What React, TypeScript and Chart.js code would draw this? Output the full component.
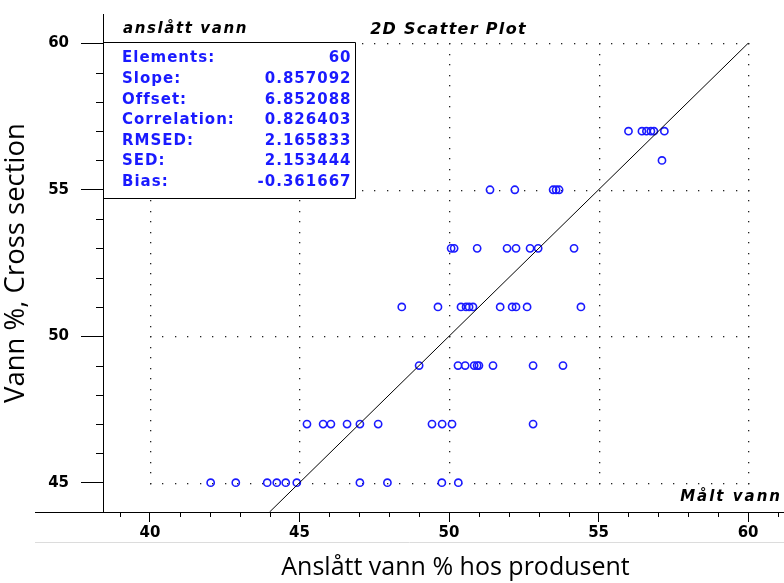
import { useEffect, useRef } from 'react';
import { Chart, registerables } from 'chart.js';

Chart.register(...registerables);

// x: Anslått vann % hos produsent, y: Vann %, Cross section
const producerWater = [
  56.0, 56.45, 56.6, 56.75, 56.85, 57.2,
  57.12,
  51.37, 52.2, 53.48, 53.58, 53.68,
  50.07, 50.17, 50.94, 51.94, 52.24, 52.71, 52.98, 54.18,
  48.42, 49.63, 50.4, 50.57, 50.67, 50.8, 51.71, 52.11, 52.24, 52.61, 54.41,
  49.0, 50.3, 50.54, 50.84, 50.94, 51.0, 51.47, 52.81, 53.81,
  45.25, 45.79, 46.05, 46.59, 47.02, 47.63, 49.43, 49.77, 50.1, 52.81,
  42.03, 42.87, 43.92, 44.24, 44.54, 44.91, 47.02, 47.94, 49.76, 50.31,
];
const crossSectionWater = [
  57, 57, 57, 57, 57, 57,
  56,
  55, 55, 55, 55, 55,
  53, 53, 53, 53, 53, 53, 53, 53,
  51, 51, 51, 51, 51, 51, 51, 51, 51, 51, 51,
  49, 49, 49, 49, 49, 49, 49, 49, 49,
  47, 47, 47, 47, 47, 47, 47, 47, 47, 47,
  45, 45, 45, 45, 45, 45, 45, 45, 45, 45,
];

const xTickValues = [40, 45, 50, 55, 60];
const yTickValues = [45, 50, 55, 60];
const xRange = [38.43, 61.2];
const yRange = [44, 61];
const identityLine = [44, 60];

const statLabels = ['Elements:', 'Slope:', 'Offset:', 'Correlation:', 'RMSED:', 'SED:', 'Bias:'];
const statValues = ['60', '0.857092', '6.852088', '0.826403', '2.165833', '2.153444', '-0.361667'];

const boxTitle = 'anslått vann';
const plotTitle = '2D Scatter Plot';
const cornerLabel = 'Målt vann';
const xAxisTitle = 'Anslått vann % hos produsent';
const yAxisTitle = 'Vann %, Cross section';

const BLUE = '#1a1aff';
const PIX = 'DejaVu Sans';

function spaced(ctx: any, s: string) {
  try {
    ctx.letterSpacing = s;
  } catch (e) {
    /* ignore */
  }
}

const overlay = {
  id: 'overlay',
  beforeDatasetsDraw(chart: any) {
    const { ctx, chartArea: a, scales } = chart;
    const x = scales.x;
    const y = scales.y;
    ctx.save();
    // dotted grid
    const gx0 = x.getPixelForValue(xTickValues[0]);
    const gx1 = x.getPixelForValue(xTickValues[xTickValues.length - 1]);
    const gy0 = y.getPixelForValue(yTickValues[0]);
    const gy1 = y.getPixelForValue(yTickValues[yTickValues.length - 1]);
    const hStep = (x.getPixelForValue(xTickValues[1]) - gx0) / 12;
    const vStep = (gy0 - y.getPixelForValue(yTickValues[1])) / 14;
    ctx.fillStyle = '#222';
    for (const yv of yTickValues) {
      const py = Math.round(y.getPixelForValue(yv));
      for (let px = gx0; px <= gx1 + 0.5; px += hStep) {
        ctx.fillRect(Math.round(px), py, 1.3, 1.3);
      }
    }
    for (const xv of xTickValues) {
      const px = Math.round(x.getPixelForValue(xv));
      for (let py = gy0; py >= gy1 - 0.5; py -= vStep) {
        ctx.fillRect(px, Math.round(py), 1.3, 1.3);
      }
    }
    // minor ticks
    ctx.strokeStyle = '#000';
    ctx.lineWidth = 1;
    ctx.beginPath();
    for (let v = Math.ceil(yRange[0]) + 1; v < yRange[1]; v++) {
      if (yTickValues.includes(v)) continue;
      const py = Math.round(y.getPixelForValue(v)) + 0.5;
      ctx.moveTo(a.left - 7, py);
      ctx.lineTo(a.left, py);
    }
    for (let v = Math.ceil(xRange[0]); v <= xRange[1]; v++) {
      if (xTickValues.includes(v)) continue;
      const px = Math.round(x.getPixelForValue(v)) + 0.5;
      ctx.moveTo(px, a.bottom);
      ctx.lineTo(px, a.bottom + 5);
    }
    // x axis extension to the left
    ctx.moveTo(a.left - 68, Math.round(a.bottom) + 0.5);
    ctx.lineTo(a.left, Math.round(a.bottom) + 0.5);
    ctx.stroke();
    // faint separator line
    ctx.strokeStyle = '#dcdcdc';
    ctx.beginPath();
    ctx.moveTo(a.left - 68, Math.round(a.bottom) + 30.5);
    ctx.lineTo(a.right, Math.round(a.bottom) + 30.5);
    ctx.stroke();
    ctx.restore();
  },
  afterDraw(chart: any) {
    const { ctx, chartArea: a } = chart;
    ctx.save();
    const bx0 = a.left + 0.5;
    const bx1 = Math.round(a.left + 252) + 0.5;
    const by0 = Math.round(a.top + 28) + 0.5;
    const by1 = Math.round(a.top + 184) + 0.5;
    ctx.fillStyle = '#fff';
    ctx.fillRect(bx0 + 0.5, by0 + 0.5, bx1 - bx0 - 1, by1 - by0 - 1);
    ctx.strokeStyle = '#000';
    ctx.lineWidth = 1;
    ctx.beginPath();
    ctx.moveTo(bx0, by0);
    ctx.lineTo(bx1, by0);
    ctx.lineTo(bx1, by1);
    ctx.lineTo(bx0, by1);
    ctx.stroke();
    // header
    ctx.fillStyle = '#000';
    ctx.textBaseline = 'middle';
    ctx.textAlign = 'left';
    ctx.font = `italic bold 15px "${PIX}"`;
    spaced(ctx, '1.6px');
    ctx.fillText(boxTitle, a.left + 20, a.top + 15);
    // stats
    ctx.font = `bold 15px "${PIX}"`;
    spaced(ctx, '1px');
    ctx.fillStyle = BLUE;
    statLabels.forEach((lab, i) => {
      const ty = by0 + 16 + i * 20.6;
      ctx.textAlign = 'left';
      ctx.fillText(lab, a.left + 19, ty);
      ctx.textAlign = 'right';
      ctx.fillText(statValues[i], bx1 - 4, ty);
    });
    // plot title
    ctx.fillStyle = '#000';
    ctx.font = `italic bold 16px "${PIX}"`;
    spaced(ctx, '1.3px');
    ctx.textAlign = 'center';
    ctx.fillText(plotTitle, (a.left + a.right) / 2 + 5, a.top + 16);
    // corner label
    ctx.textAlign = 'right';
    ctx.font = `italic bold 15px "${PIX}"`;
    spaced(ctx, '2px');
    ctx.fillText(cornerLabel, a.right - 2, a.bottom - 15);
    // x axis title (centred as in the original, slightly right of the plot centre)
    spaced(ctx, '0px');
    ctx.fillStyle = '#000';
    ctx.font = '25px "Open Sans"';
    ctx.textAlign = 'center';
    ctx.textBaseline = 'middle';
    ctx.fillText(xAxisTitle, (a.left + a.right) / 2 + 12, chart.height - 15);
    ctx.restore();
  },
};

export default function App() {
  const ref = useRef<HTMLCanvasElement | null>(null);
  useEffect(() => {
    if (!ref.current) return;
    const points = producerWater.map((v, i) => ({ x: v, y: crossSectionWater[i] }));
    const chart = new Chart(ref.current, {
      type: 'scatter',
      data: {
        datasets: [
          {
            label: 'identity',
            type: 'line',
            data: identityLine.map((v) => ({ x: v, y: v })),
            borderColor: '#000',
            borderWidth: 1,
            pointRadius: 0,
            fill: false,
          } as any,
          {
            label: 'samples',
            data: points,
            pointStyle: 'circle',
            pointRadius: 3.6,
            pointBorderWidth: 1.6,
            borderColor: BLUE,
            backgroundColor: 'rgba(0,0,0,0)',
            pointHoverRadius: 3.6,
          } as any,
        ],
      },
      options: {
        animation: false,
        responsive: false,
        events: [],
        layout: { autoPadding: false, padding: { top: 14, left: 0, right: 0, bottom: 0 } },
        plugins: {
          legend: { display: false },
          tooltip: { enabled: false },
        },
        scales: {
          x: {
            type: 'linear',
            min: xRange[0],
            max: xRange[1],
            afterBuildTicks: (s: any) => {
              s.ticks = xTickValues.map((v) => ({ value: v }));
            },
            afterFit: (s: any) => {
              s.height = 71;
            },
            ticks: {
              color: '#000',
              font: { family: PIX, size: 15, weight: 'bold' },
              padding: 2,
              maxRotation: 0,
            },
            grid: {
              drawOnChartArea: false,
              drawTicks: true,
              tickLength: 10,
              tickColor: '#000',
              tickWidth: 1,
            },
            border: { display: true, color: '#000', width: 1 },
            title: { display: false },
          },
          y: {
            type: 'linear',
            min: yRange[0],
            max: yRange[1],
            afterBuildTicks: (s: any) => {
              s.ticks = yTickValues.map((v) => ({ value: v }));
            },
            afterFit: (s: any) => {
              s.width = 103;
            },
            ticks: {
              color: '#000',
              font: { family: PIX, size: 15, weight: 'bold', lineHeight: 0.1 },
              padding: 12,
            },
            grid: {
              drawOnChartArea: false,
              drawTicks: true,
              tickLength: 22,
              tickColor: '#000',
              tickWidth: 1,
            },
            border: { display: true, color: '#000', width: 1 },
            title: {
              display: true,
              text: yAxisTitle,
              color: '#000',
              font: { family: 'Open Sans', size: 27.5 },
              padding: { top: 0, bottom: 0 },
            },
          },
        },
      },
      plugins: [overlay],
    });
    return () => chart.destroy();
  }, []);
  return (
    <div style={{ position: 'absolute', left: 0, top: 0, width: 784, height: 583, background: '#fff' }}>
      <canvas ref={ref} width={784} height={583} />
    </div>
  );
}
